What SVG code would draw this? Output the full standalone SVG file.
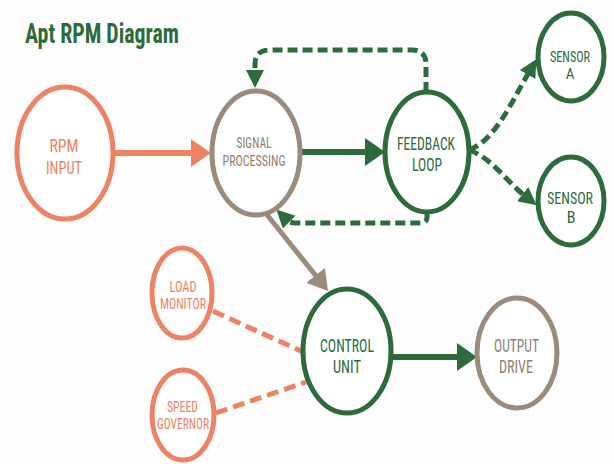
<svg xmlns="http://www.w3.org/2000/svg" width="614" height="464" viewBox="0 0 614 464">
<defs>
<style>
.t{font-family:"Liberation Sans Narrow","Roboto Condensed","Liberation Sans",sans-serif;text-anchor:middle;}
.sal{stroke:#ee8265;fill:#fff;stroke-width:5;}
.tau{stroke:#9b8b7c;fill:#fff;stroke-width:5;}
.grn{stroke:#2e6b3c;fill:#fff;stroke-width:5;}
.fs{fill:#ee8265;}
.ft{fill:#8f7f70;}
.fg{fill:#2e6b3c;}
.c{fill:none;}
</style>
<marker id="aS" markerUnits="userSpaceOnUse" markerWidth="22" markerHeight="30" refX="4" refY="14" orient="auto"><path d="M0,0 L20,14 L0,28 z" fill="#ee8265"/></marker>
<marker id="aG" markerUnits="userSpaceOnUse" markerWidth="22" markerHeight="30" refX="4" refY="14" orient="auto"><path d="M0,0 L20,14 L0,28 z" fill="#2e6b3c"/></marker>
<marker id="aT" markerUnits="userSpaceOnUse" markerWidth="22" markerHeight="26" refX="4" refY="12" orient="auto"><path d="M0,0 L20,12 L0,24 z" fill="#9b8b7c"/></marker>
<marker id="aD" markerUnits="userSpaceOnUse" markerWidth="20" markerHeight="20" refX="3" refY="9" orient="auto"><path d="M0,0 L18,9 L0,18 z" fill="#2e6b3c"/></marker>
</defs>
<rect width="614" height="464" fill="#fdfdfd"/>
<text class="t fg" x="25" y="43" font-size="28" font-weight="bold" style="text-anchor:start" textLength="154" lengthAdjust="spacingAndGlyphs">Apt RPM Diagram</text>

<g id="connectors">
<path class="c" d="M113,153 L195,153" stroke="#ee8265" stroke-width="6" marker-end="url(#aS)"/>
<path class="c" d="M300,152 L369,152" stroke="#2e6b3c" stroke-width="6" marker-end="url(#aG)"/>
<path class="c" d="M392,357 L461,357" stroke="#2e6b3c" stroke-width="6" marker-end="url(#aG)"/>
<path class="c" d="M264,211 L318,278.5" stroke="#9b8b7c" stroke-width="5" marker-end="url(#aT)"/>
<path class="c" d="M426,92 V64 Q426,50 412,50 H270 Q255,50 255,64 L255,73" stroke="#2e6b3c" stroke-width="5" stroke-dasharray="10 5" marker-end="url(#aD)"/>
<path class="c" d="M427,212 V217 Q427,223 420,223 H295 Q290,223 287,220" stroke="#2e6b3c" stroke-width="5" stroke-dasharray="10 5" marker-end="url(#aD)"/>
<path class="c" d="M469,150 C495,140 510,105 529,72" stroke="#2e6b3c" stroke-width="5" stroke-dasharray="10 5" marker-end="url(#aD)"/>
<path class="c" d="M469,150 C492,158 505,180 525,196" stroke="#2e6b3c" stroke-width="5" stroke-dasharray="10 5" marker-end="url(#aD)"/>
<path class="c" d="M213,311 L303,352" stroke="#ee8265" stroke-width="5" stroke-dasharray="12 6"/>
<path class="c" d="M216,413 L306,382" stroke="#ee8265" stroke-width="5" stroke-dasharray="12 6"/>
</g>

<g id="rpm-input">
<ellipse class="sal" cx="65" cy="153" rx="48" ry="66"/>
<text class="t fs" x="64" y="152" font-size="19" textLength="29" lengthAdjust="spacingAndGlyphs">RPM</text>
<text class="t fs" x="64" y="174" font-size="19" textLength="36" lengthAdjust="spacingAndGlyphs">INPUT</text>
</g>
<g id="signal-processing">
<ellipse class="tau" cx="256" cy="153" rx="44" ry="62"/>
<text class="t ft" x="254" y="148" font-size="15" textLength="35" lengthAdjust="spacingAndGlyphs">SIGNAL</text>
<text class="t ft" x="254" y="166" font-size="15" textLength="63" lengthAdjust="spacingAndGlyphs">PROCESSING</text>
</g>
<g id="feedback-loop">
<ellipse class="grn" cx="427" cy="152" rx="42" ry="60"/>
<text class="t fg" x="426" y="150" font-size="18" textLength="58" lengthAdjust="spacingAndGlyphs">FEEDBACK</text>
<text class="t fg" x="427" y="171" font-size="18" textLength="30" lengthAdjust="spacingAndGlyphs">LOOP</text>
</g>
<g id="sensor-a">
<ellipse class="grn" cx="571" cy="57" rx="33" ry="44"/>
<text class="t fg" x="570" y="62" font-size="15" textLength="40" lengthAdjust="spacingAndGlyphs">SENSOR</text>
<text class="t fg" x="570" y="79" font-size="15">A</text>
</g>
<g id="sensor-b">
<ellipse class="grn" cx="571" cy="201" rx="33" ry="44"/>
<text class="t fg" x="570" y="204" font-size="16" textLength="46" lengthAdjust="spacingAndGlyphs">SENSOR</text>
<text class="t fg" x="571" y="223" font-size="16">B</text>
</g>
<g id="load-monitor">
<ellipse class="sal" cx="182" cy="293" rx="30" ry="45"/>
<text class="t fs" x="183" y="292" font-size="14.5" textLength="27" lengthAdjust="spacingAndGlyphs">LOAD</text>
<text class="t fs" x="183" y="309" font-size="14.5" textLength="46" lengthAdjust="spacingAndGlyphs">MONITOR</text>
</g>
<g id="speed-governor">
<ellipse class="sal" cx="183" cy="415" rx="31" ry="45"/>
<text class="t fs" x="182.5" y="412" font-size="14" textLength="31" lengthAdjust="spacingAndGlyphs">SPEED</text>
<text class="t fs" x="183" y="429" font-size="14" textLength="52" lengthAdjust="spacingAndGlyphs">GOVERNOR</text>
</g>
<g id="control-unit">
<ellipse class="grn" cx="347" cy="351" rx="44" ry="62"/>
<text class="t fg" x="347" y="352" font-size="18" textLength="54" lengthAdjust="spacingAndGlyphs">CONTROL</text>
<text class="t fg" x="347" y="373" font-size="18" textLength="28" lengthAdjust="spacingAndGlyphs">UNIT</text>
</g>
<g id="output-drive">
<ellipse class="tau" cx="517" cy="353" rx="40" ry="55"/>
<text class="t ft" x="516.5" y="352" font-size="18" textLength="45" lengthAdjust="spacingAndGlyphs">OUTPUT</text>
<text class="t ft" x="516" y="373" font-size="18" textLength="34" lengthAdjust="spacingAndGlyphs">DRIVE</text>
</g>
</svg>
